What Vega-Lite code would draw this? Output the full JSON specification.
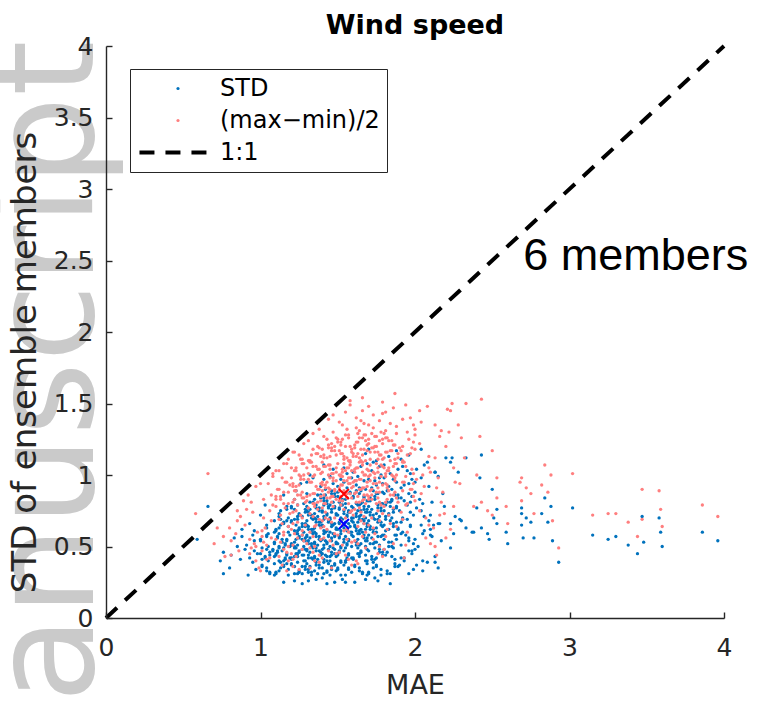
{
"$schema":"https://vega.github.io/schema/vega-lite/v6.json",
"width":618,"height":572,
"autosize":{"type":"none"},
"padding":{"left":106,"top":46,"right":41,"bottom":84},
"background":"white",
"config":{
 "view":{"stroke":null},
 "axis":{"grid":false,"domainColor":"#262626","domainWidth":1.4,"tickColor":"#262626","tickWidth":1.4,"tickSize":-6,"labelFont":"DejaVu Sans","labelFontSize":25,"labelColor":"#262626","labelFlush":false,"labelOverlap":false,"titleFont":"DejaVu Sans","titleFontSize":27,"titleFontWeight":"normal","titleColor":"#262626","zindex":1}
},
"datasets":{
"std":[
{"x":1.15,"y":0.25},{"x":1.22,"y":0.26},{"x":1.27,"y":0.24},{"x":1.31,"y":0.26},{"x":1.36,"y":0.27},{"x":1.43,"y":0.24},{"x":1.48,"y":0.25},{"x":1.40,"y":0.28},{"x":1.55,"y":0.25},{"x":1.53,"y":0.27},{"x":1.68,"y":0.27},{"x":1.61,"y":0.25},{"x":1.76,"y":0.26},{"x":1.74,"y":0.28},{"x":1.84,"y":0.24},
{"x":0.80,"y":0.35},{"x":0.95,"y":0.39},{"x":0.92,"y":0.30},{"x":0.97,"y":0.34},{"x":1.01,"y":0.37},{"x":1.06,"y":0.31},{"x":1.04,"y":0.35},{"x":1.09,"y":0.38},{"x":1.10,"y":0.32},{"x":1.15,"y":0.36},{"x":1.13,"y":0.39},{"x":1.18,"y":0.30},{"x":1.12,"y":0.33},{"x":1.27,"y":0.36},{"x":1.24,"y":0.31},{"x":1.29,"y":0.34},{"x":1.20,"y":0.37},{"x":1.25,"y":0.33},{"x":1.22,"y":0.36},{"x":1.37,"y":0.31},{"x":1.31,"y":0.34},{"x":1.36,"y":0.37},{"x":1.33,"y":0.32},{"x":1.38,"y":0.35},{"x":1.30,"y":0.38},{"x":1.45,"y":0.30},{"x":1.43,"y":0.33},{"x":1.48,"y":0.37},{"x":1.41,"y":0.31},{"x":1.46,"y":0.34},{"x":1.44,"y":0.38},{"x":1.59,"y":0.32},{"x":1.50,"y":0.35},{"x":1.55,"y":0.39},{"x":1.52,"y":0.30},{"x":1.57,"y":0.34},{"x":1.61,"y":0.37},{"x":1.66,"y":0.31},{"x":1.64,"y":0.35},{"x":1.69,"y":0.38},{"x":1.70,"y":0.32},{"x":1.75,"y":0.36},{"x":1.73,"y":0.39},{"x":1.78,"y":0.30},{"x":1.82,"y":0.33},{"x":1.87,"y":0.36},{"x":1.84,"y":0.31},{"x":1.99,"y":0.34},{"x":1.90,"y":0.37},{"x":2.05,"y":0.33},
{"x":0.76,"y":0.46},{"x":0.87,"y":0.41},{"x":0.81,"y":0.44},{"x":0.96,"y":0.47},{"x":0.93,"y":0.42},{"x":0.98,"y":0.45},{"x":0.90,"y":0.48},{"x":1.05,"y":0.40},{"x":1.03,"y":0.43},{"x":1.08,"y":0.47},{"x":1.01,"y":0.41},{"x":1.06,"y":0.44},{"x":1.04,"y":0.48},{"x":1.19,"y":0.42},{"x":1.10,"y":0.45},{"x":1.15,"y":0.49},{"x":1.12,"y":0.40},{"x":1.17,"y":0.44},{"x":1.11,"y":0.47},{"x":1.16,"y":0.41},{"x":1.24,"y":0.45},{"x":1.29,"y":0.48},{"x":1.20,"y":0.42},{"x":1.25,"y":0.46},{"x":1.23,"y":0.49},{"x":1.28,"y":0.40},{"x":1.22,"y":0.43},{"x":1.27,"y":0.44},{"x":1.34,"y":0.41},{"x":1.39,"y":0.44},{"x":1.30,"y":0.47},{"x":1.35,"y":0.43},{"x":1.32,"y":0.46},{"x":1.37,"y":0.41},{"x":1.31,"y":0.44},{"x":1.36,"y":0.47},{"x":1.33,"y":0.42},{"x":1.48,"y":0.45},{"x":1.40,"y":0.48},{"x":1.45,"y":0.40},{"x":1.43,"y":0.43},{"x":1.47,"y":0.49},{"x":1.41,"y":0.41},{"x":1.46,"y":0.44},{"x":1.44,"y":0.48},{"x":1.59,"y":0.42},{"x":1.50,"y":0.45},{"x":1.55,"y":0.49},{"x":1.52,"y":0.40},{"x":1.57,"y":0.44},{"x":1.51,"y":0.47},{"x":1.56,"y":0.41},{"x":1.64,"y":0.45},{"x":1.69,"y":0.48},{"x":1.60,"y":0.42},{"x":1.65,"y":0.46},{"x":1.63,"y":0.49},{"x":1.68,"y":0.40},{"x":1.72,"y":0.43},{"x":1.77,"y":0.46},{"x":1.74,"y":0.41},{"x":1.79,"y":0.44},{"x":1.70,"y":0.47},{"x":1.85,"y":0.43},{"x":1.82,"y":0.46},{"x":1.87,"y":0.41},{"x":1.81,"y":0.44},{"x":1.96,"y":0.47},{"x":1.93,"y":0.42},{"x":1.98,"y":0.45},{"x":2.00,"y":0.48},{"x":2.05,"y":0.40},{"x":2.13,"y":0.43},
{"x":0.88,"y":0.57},{"x":0.91,"y":0.51},{"x":0.96,"y":0.54},{"x":1.04,"y":0.58},{"x":1.09,"y":0.52},{"x":1.00,"y":0.55},{"x":1.05,"y":0.59},{"x":1.12,"y":0.50},{"x":1.17,"y":0.54},{"x":1.11,"y":0.57},{"x":1.16,"y":0.51},{"x":1.14,"y":0.55},{"x":1.19,"y":0.58},{"x":1.20,"y":0.52},{"x":1.25,"y":0.56},{"x":1.23,"y":0.59},{"x":1.28,"y":0.50},{"x":1.22,"y":0.53},{"x":1.27,"y":0.55},{"x":1.24,"y":0.51},{"x":1.29,"y":0.54},{"x":1.30,"y":0.57},{"x":1.35,"y":0.53},{"x":1.32,"y":0.56},{"x":1.37,"y":0.51},{"x":1.31,"y":0.54},{"x":1.36,"y":0.57},{"x":1.33,"y":0.52},{"x":1.38,"y":0.55},{"x":1.34,"y":0.59},{"x":1.45,"y":0.50},{"x":1.43,"y":0.53},{"x":1.48,"y":0.57},{"x":1.41,"y":0.51},{"x":1.46,"y":0.54},{"x":1.44,"y":0.58},{"x":1.49,"y":0.52},{"x":1.40,"y":0.55},{"x":1.47,"y":0.59},{"x":1.52,"y":0.50},{"x":1.57,"y":0.54},{"x":1.51,"y":0.57},{"x":1.56,"y":0.51},{"x":1.54,"y":0.55},{"x":1.59,"y":0.58},{"x":1.50,"y":0.52},{"x":1.55,"y":0.57},{"x":1.63,"y":0.59},{"x":1.68,"y":0.50},{"x":1.62,"y":0.53},{"x":1.67,"y":0.56},{"x":1.64,"y":0.51},{"x":1.69,"y":0.54},{"x":1.60,"y":0.57},{"x":1.75,"y":0.53},{"x":1.72,"y":0.56},{"x":1.77,"y":0.51},{"x":1.79,"y":0.58},{"x":1.76,"y":0.57},{"x":1.73,"y":0.52},{"x":1.88,"y":0.55},{"x":1.80,"y":0.58},{"x":1.85,"y":0.50},{"x":1.83,"y":0.53},{"x":1.87,"y":0.58},{"x":1.91,"y":0.51},{"x":1.96,"y":0.54},{"x":1.94,"y":0.58},{"x":1.99,"y":0.52},{"x":2.00,"y":0.55},{"x":2.05,"y":0.59},{"x":2.02,"y":0.50},{"x":2.17,"y":0.54},{"x":2.11,"y":0.57},
{"x":0.96,"y":0.61},{"x":1.04,"y":0.65},{"x":1.09,"y":0.68},{"x":1.10,"y":0.62},{"x":1.15,"y":0.66},{"x":1.13,"y":0.69},{"x":1.18,"y":0.60},{"x":1.12,"y":0.63},{"x":1.27,"y":0.66},{"x":1.24,"y":0.61},{"x":1.29,"y":0.64},{"x":1.20,"y":0.67},{"x":1.25,"y":0.63},{"x":1.22,"y":0.69},{"x":1.28,"y":0.60},{"x":1.31,"y":0.64},{"x":1.36,"y":0.67},{"x":1.33,"y":0.62},{"x":1.38,"y":0.65},{"x":1.30,"y":0.68},{"x":1.35,"y":0.60},{"x":1.34,"y":0.69},{"x":1.39,"y":0.67},{"x":1.41,"y":0.61},{"x":1.46,"y":0.64},{"x":1.44,"y":0.68},{"x":1.49,"y":0.62},{"x":1.40,"y":0.65},{"x":1.45,"y":0.69},{"x":1.42,"y":0.60},{"x":1.48,"y":0.66},{"x":1.51,"y":0.67},{"x":1.56,"y":0.61},{"x":1.54,"y":0.65},{"x":1.59,"y":0.68},{"x":1.50,"y":0.62},{"x":1.57,"y":0.66},{"x":1.53,"y":0.69},{"x":1.58,"y":0.60},{"x":1.62,"y":0.63},{"x":1.67,"y":0.66},{"x":1.64,"y":0.61},{"x":1.69,"y":0.64},{"x":1.60,"y":0.67},{"x":1.66,"y":0.69},{"x":1.61,"y":0.65},{"x":1.68,"y":0.62},{"x":1.71,"y":0.64},{"x":1.76,"y":0.67},{"x":1.73,"y":0.62},{"x":1.78,"y":0.65},{"x":1.70,"y":0.68},{"x":1.75,"y":0.60},{"x":1.74,"y":0.69},{"x":1.88,"y":0.67},{"x":1.81,"y":0.61},{"x":1.86,"y":0.64},{"x":1.84,"y":0.68},{"x":1.89,"y":0.62},{"x":1.80,"y":0.65},{"x":1.95,"y":0.69},{"x":1.92,"y":0.60},{"x":1.97,"y":0.64},{"x":1.91,"y":0.67},{"x":2.06,"y":0.61},{"x":2.04,"y":0.65},{"x":2.09,"y":0.68},{"x":2.10,"y":0.62},{"x":2.15,"y":0.66},
{"x":1.03,"y":0.79},{"x":1.18,"y":0.70},{"x":1.12,"y":0.73},{"x":1.17,"y":0.76},{"x":1.24,"y":0.71},{"x":1.29,"y":0.74},{"x":1.20,"y":0.77},{"x":1.25,"y":0.73},{"x":1.22,"y":0.76},{"x":1.37,"y":0.71},{"x":1.31,"y":0.74},{"x":1.36,"y":0.77},{"x":1.33,"y":0.72},{"x":1.38,"y":0.75},{"x":1.30,"y":0.78},{"x":1.35,"y":0.70},{"x":1.43,"y":0.73},{"x":1.48,"y":0.77},{"x":1.41,"y":0.71},{"x":1.46,"y":0.74},{"x":1.44,"y":0.78},{"x":1.49,"y":0.72},{"x":1.40,"y":0.75},{"x":1.45,"y":0.79},{"x":1.52,"y":0.70},{"x":1.57,"y":0.74},{"x":1.51,"y":0.77},{"x":1.56,"y":0.71},{"x":1.54,"y":0.75},{"x":1.59,"y":0.78},{"x":1.50,"y":0.72},{"x":1.53,"y":0.79},{"x":1.63,"y":0.79},{"x":1.68,"y":0.70},{"x":1.62,"y":0.73},{"x":1.67,"y":0.76},{"x":1.64,"y":0.71},{"x":1.69,"y":0.74},{"x":1.60,"y":0.77},{"x":1.65,"y":0.75},{"x":1.72,"y":0.76},{"x":1.77,"y":0.71},{"x":1.71,"y":0.74},{"x":1.76,"y":0.77},{"x":1.73,"y":0.72},{"x":1.78,"y":0.75},{"x":1.70,"y":0.78},{"x":1.85,"y":0.70},{"x":1.83,"y":0.73},{"x":1.88,"y":0.77},{"x":1.81,"y":0.71},{"x":1.86,"y":0.74},{"x":1.84,"y":0.78},{"x":1.99,"y":0.72},{"x":1.90,"y":0.75},{"x":1.95,"y":0.79},{"x":1.92,"y":0.70},{"x":1.97,"y":0.74},{"x":2.01,"y":0.77},{"x":2.06,"y":0.71},{"x":2.04,"y":0.75},{"x":2.19,"y":0.78},{"x":2.10,"y":0.72},
{"x":1.15,"y":0.86},{"x":1.23,"y":0.89},{"x":1.28,"y":0.80},{"x":1.22,"y":0.83},{"x":1.37,"y":0.86},{"x":1.34,"y":0.81},{"x":1.39,"y":0.84},{"x":1.30,"y":0.87},{"x":1.35,"y":0.83},{"x":1.42,"y":0.86},{"x":1.47,"y":0.81},{"x":1.41,"y":0.84},{"x":1.46,"y":0.87},{"x":1.43,"y":0.82},{"x":1.48,"y":0.85},{"x":1.50,"y":0.88},{"x":1.55,"y":0.80},{"x":1.53,"y":0.83},{"x":1.58,"y":0.87},{"x":1.51,"y":0.81},{"x":1.56,"y":0.84},{"x":1.54,"y":0.88},{"x":1.69,"y":0.82},{"x":1.60,"y":0.85},{"x":1.65,"y":0.89},{"x":1.62,"y":0.80},{"x":1.67,"y":0.84},{"x":1.61,"y":0.87},{"x":1.66,"y":0.81},{"x":1.74,"y":0.85},{"x":1.79,"y":0.88},{"x":1.70,"y":0.82},{"x":1.76,"y":0.87},{"x":1.73,"y":0.89},{"x":1.78,"y":0.80},{"x":1.71,"y":0.84},{"x":1.87,"y":0.86},{"x":1.84,"y":0.81},{"x":1.89,"y":0.84},{"x":1.80,"y":0.87},{"x":1.85,"y":0.83},{"x":1.82,"y":0.89},{"x":1.97,"y":0.81},{"x":1.91,"y":0.84},{"x":1.96,"y":0.87},{"x":1.93,"y":0.82},{"x":1.98,"y":0.85},{"x":2.00,"y":0.88},{"x":2.05,"y":0.80},{"x":2.03,"y":0.83},{"x":2.18,"y":0.87},{"x":2.11,"y":0.81},
{"x":1.26,"y":0.94},{"x":1.34,"y":0.98},{"x":1.39,"y":0.92},{"x":1.30,"y":0.95},{"x":1.45,"y":0.99},{"x":1.42,"y":0.90},{"x":1.47,"y":0.94},{"x":1.41,"y":0.97},{"x":1.56,"y":0.91},{"x":1.54,"y":0.95},{"x":1.59,"y":0.98},{"x":1.50,"y":0.92},{"x":1.52,"y":0.97},{"x":1.63,"y":0.99},{"x":1.68,"y":0.90},{"x":1.62,"y":0.93},{"x":1.67,"y":0.96},{"x":1.64,"y":0.91},{"x":1.79,"y":0.94},{"x":1.70,"y":0.97},{"x":1.75,"y":0.93},{"x":1.72,"y":0.91},{"x":1.77,"y":0.98},{"x":1.74,"y":0.96},{"x":1.86,"y":0.97},{"x":1.83,"y":0.92},{"x":1.88,"y":0.95},{"x":1.80,"y":0.98},{"x":1.85,"y":0.90},{"x":1.93,"y":0.93},{"x":1.98,"y":0.97},{"x":1.91,"y":0.91},{"x":1.96,"y":0.94},{"x":2.04,"y":0.98},{"x":2.09,"y":0.92},{"x":2.00,"y":0.95},{"x":2.15,"y":0.99},
{"x":1.32,"y":1.00},{"x":1.47,"y":1.04},{"x":1.41,"y":1.07},{"x":1.56,"y":1.01},{"x":1.54,"y":1.05},{"x":1.69,"y":1.08},{"x":1.60,"y":1.02},{"x":1.65,"y":1.06},{"x":1.73,"y":1.09},{"x":1.78,"y":1.00},{"x":1.72,"y":1.03},{"x":1.77,"y":1.06},{"x":1.84,"y":1.01},{"x":1.89,"y":1.04},{"x":1.80,"y":1.07},{"x":1.95,"y":1.03},{"x":1.92,"y":1.06},{"x":1.97,"y":1.01},{"x":2.01,"y":1.04},{"x":2.06,"y":1.07},{"x":2.13,"y":1.02},
{"x":1.68,"y":1.15},{"x":1.70,"y":1.18},{"x":1.75,"y":1.10},{"x":1.83,"y":1.13},{"x":1.88,"y":1.17},{"x":1.91,"y":1.11},{"x":1.96,"y":1.14},{"x":2.04,"y":1.18},
{"x":0.76,"y":0.31},{"x":0.74,"y":0.40},{"x":0.83,"y":0.56},{"x":0.88,"y":0.62},{"x":0.93,"y":0.66},{"x":0.66,"y":0.78},{"x":0.59,"y":0.55},{"x":0.85,"y":0.50},{"x":0.95,"y":0.58},{"x":1.00,"y":0.72},
{"x":2.43,"y":1.14},{"x":2.33,"y":1.12},{"x":2.42,"y":0.98},{"x":2.50,"y":0.90},{"x":2.51,"y":0.70},{"x":2.53,"y":0.76},{"x":2.53,"y":0.66},{"x":2.43,"y":0.63},{"x":2.38,"y":0.60},{"x":2.47,"y":0.59},{"x":2.48,"y":0.55},{"x":2.40,"y":0.77},{"x":2.59,"y":0.60},{"x":2.60,"y":0.52},{"x":2.69,"y":0.77},{"x":2.69,"y":0.73},{"x":2.69,"y":0.65},{"x":2.70,"y":0.56},{"x":2.72,"y":0.70},{"x":2.75,"y":0.67},{"x":2.77,"y":0.56},{"x":2.82,"y":0.73},{"x":2.84,"y":0.84},{"x":2.88,"y":0.78},{"x":2.86,"y":0.67},{"x":2.89,"y":0.54},{"x":2.93,"y":0.39},{"x":3.02,"y":0.77},{"x":3.15,"y":0.58},{"x":3.25,"y":0.55},{"x":3.30,"y":0.57},{"x":3.38,"y":0.51},{"x":3.44,"y":0.45},{"x":3.47,"y":0.71},{"x":3.48,"y":0.53},{"x":3.58,"y":0.70},{"x":3.59,"y":0.60},{"x":3.60,"y":0.50},{"x":3.86,"y":0.60},{"x":3.96,"y":0.54},{"x":2.23,"y":0.49},{"x":2.20,"y":1.12},{"x":2.24,"y":1.12},{"x":2.23,"y":1.09},{"x":2.28,"y":1.02},{"x":2.26,"y":0.71},{"x":2.29,"y":0.69},{"x":2.25,"y":0.59},{"x":2.23,"y":0.66},{"x":2.30,"y":0.68},{"x":2.33,"y":0.63},{"x":2.37,"y":0.60},{"x":2.13,"y":0.39},{"x":2.08,"y":0.39},{"x":2.15,"y":0.35},{"x":2.01,"y":0.37},{"x":1.96,"y":0.31},{"x":2.16,"y":0.66},{"x":2.12,"y":0.65},{"x":2.10,"y":0.58},{"x":2.08,"y":1.09},{"x":2.13,"y":1.02},
{"x":1.06,"y":0.32},{"x":1.01,"y":0.36},{"x":1.09,"y":0.30},{"x":1.04,"y":0.33},{"x":1.15,"y":0.37},{"x":1.10,"y":0.31},{"x":1.18,"y":0.34},{"x":1.13,"y":0.35},{"x":1.17,"y":0.38},{"x":1.22,"y":0.31},{"x":1.29,"y":0.36},{"x":1.24,"y":0.39},{"x":1.25,"y":0.32},{"x":1.20,"y":0.38},{"x":1.27,"y":0.31},{"x":1.32,"y":0.36},{"x":1.36,"y":0.39},{"x":1.31,"y":0.32},{"x":1.38,"y":0.37},{"x":1.33,"y":0.30},{"x":1.35,"y":0.33},{"x":1.40,"y":0.35},{"x":1.48,"y":0.38},{"x":1.43,"y":0.32},{"x":1.46,"y":0.36},{"x":1.41,"y":0.39},{"x":1.49,"y":0.33},{"x":1.54,"y":0.37},{"x":1.55,"y":0.30},{"x":1.50,"y":0.34},{"x":1.57,"y":0.35},{"x":1.52,"y":0.39},{"x":1.66,"y":0.32},{"x":1.61,"y":0.36},{"x":1.69,"y":0.30},{"x":1.64,"y":0.33},{"x":1.75,"y":0.37},{"x":1.70,"y":0.31},{"x":1.78,"y":0.34},{"x":1.73,"y":0.35},{"x":1.87,"y":0.38},{"x":1.82,"y":0.31},{"x":1.89,"y":0.36},
{"x":1.00,"y":0.45},{"x":1.08,"y":0.48},{"x":1.03,"y":0.42},{"x":1.06,"y":0.46},{"x":1.01,"y":0.49},{"x":1.09,"y":0.43},{"x":1.14,"y":0.47},{"x":1.15,"y":0.40},{"x":1.10,"y":0.44},{"x":1.17,"y":0.45},{"x":1.12,"y":0.49},{"x":1.16,"y":0.42},{"x":1.11,"y":0.46},{"x":1.29,"y":0.40},{"x":1.24,"y":0.43},{"x":1.25,"y":0.47},{"x":1.20,"y":0.41},{"x":1.28,"y":0.44},{"x":1.23,"y":0.45},{"x":1.27,"y":0.48},{"x":1.22,"y":0.49},{"x":1.39,"y":0.46},{"x":1.34,"y":0.49},{"x":1.35,"y":0.42},{"x":1.30,"y":0.48},{"x":1.36,"y":0.49},{"x":1.31,"y":0.42},{"x":1.38,"y":0.47},{"x":1.43,"y":0.40},{"x":1.45,"y":0.43},{"x":1.40,"y":0.45},{"x":1.48,"y":0.48},{"x":1.42,"y":0.44},{"x":1.46,"y":0.46},{"x":1.41,"y":0.49},{"x":1.49,"y":0.43},{"x":1.54,"y":0.47},{"x":1.55,"y":0.40},{"x":1.50,"y":0.44},{"x":1.57,"y":0.45},{"x":1.52,"y":0.49},{"x":1.56,"y":0.42},{"x":1.51,"y":0.46},{"x":1.69,"y":0.40},{"x":1.64,"y":0.43},{"x":1.65,"y":0.47},{"x":1.60,"y":0.41},{"x":1.68,"y":0.44},{"x":1.63,"y":0.45},{"x":1.77,"y":0.48},{"x":1.72,"y":0.41},{"x":1.79,"y":0.46},{"x":1.74,"y":0.49},{"x":1.75,"y":0.42},{"x":1.80,"y":0.48},{"x":1.86,"y":0.49},{"x":1.91,"y":0.42},{"x":1.98,"y":0.47},{"x":1.93,"y":0.40},
{"x":1.09,"y":0.53},{"x":1.04,"y":0.57},{"x":1.05,"y":0.50},{"x":1.00,"y":0.54},{"x":1.17,"y":0.55},{"x":1.12,"y":0.59},{"x":1.16,"y":0.52},{"x":1.11,"y":0.56},{"x":1.19,"y":0.50},{"x":1.14,"y":0.53},{"x":1.25,"y":0.57},{"x":1.20,"y":0.51},{"x":1.28,"y":0.54},{"x":1.23,"y":0.55},{"x":1.27,"y":0.58},{"x":1.22,"y":0.50},{"x":1.29,"y":0.56},{"x":1.24,"y":0.59},{"x":1.35,"y":0.52},{"x":1.30,"y":0.58},{"x":1.36,"y":0.59},{"x":1.31,"y":0.52},{"x":1.38,"y":0.57},{"x":1.33,"y":0.50},{"x":1.39,"y":0.54},{"x":1.48,"y":0.58},{"x":1.43,"y":0.52},{"x":1.46,"y":0.56},{"x":1.41,"y":0.59},{"x":1.49,"y":0.53},{"x":1.44,"y":0.57},{"x":1.42,"y":0.54},{"x":1.57,"y":0.55},{"x":1.52,"y":0.59},{"x":1.56,"y":0.52},{"x":1.51,"y":0.56},{"x":1.59,"y":0.50},{"x":1.54,"y":0.53},{"x":1.68,"y":0.54},{"x":1.63,"y":0.55},{"x":1.67,"y":0.58},{"x":1.62,"y":0.51},{"x":1.69,"y":0.56},{"x":1.64,"y":0.59},{"x":1.65,"y":0.52},{"x":1.70,"y":0.58},{"x":1.74,"y":0.53},{"x":1.71,"y":0.52},{"x":1.78,"y":0.57},{"x":1.83,"y":0.50},{"x":1.85,"y":0.53},{"x":1.80,"y":0.55},{"x":1.88,"y":0.58},{"x":1.96,"y":0.56},{"x":1.91,"y":0.59},
{"x":1.09,"y":0.60},{"x":1.04,"y":0.63},{"x":1.15,"y":0.67},{"x":1.10,"y":0.61},{"x":1.18,"y":0.64},{"x":1.13,"y":0.65},{"x":1.17,"y":0.68},{"x":1.22,"y":0.61},{"x":1.29,"y":0.66},{"x":1.24,"y":0.69},{"x":1.25,"y":0.62},{"x":1.20,"y":0.68},{"x":1.27,"y":0.64},{"x":1.23,"y":0.65},{"x":1.36,"y":0.69},{"x":1.31,"y":0.62},{"x":1.38,"y":0.67},{"x":1.33,"y":0.60},{"x":1.35,"y":0.63},{"x":1.30,"y":0.65},{"x":1.39,"y":0.64},{"x":1.34,"y":0.62},{"x":1.46,"y":0.66},{"x":1.41,"y":0.69},{"x":1.49,"y":0.63},{"x":1.44,"y":0.67},{"x":1.45,"y":0.60},{"x":1.40,"y":0.64},{"x":1.47,"y":0.65},{"x":1.43,"y":0.61},{"x":1.56,"y":0.62},{"x":1.51,"y":0.66},{"x":1.59,"y":0.60},{"x":1.54,"y":0.63},{"x":1.55,"y":0.67},{"x":1.52,"y":0.61},{"x":1.58,"y":0.64},{"x":1.53,"y":0.65},{"x":1.67,"y":0.68},{"x":1.62,"y":0.61},{"x":1.69,"y":0.66},{"x":1.64,"y":0.69},{"x":1.65,"y":0.62},{"x":1.61,"y":0.64},{"x":1.66,"y":0.60},{"x":1.63,"y":0.67},{"x":1.76,"y":0.69},{"x":1.71,"y":0.62},{"x":1.78,"y":0.67},{"x":1.73,"y":0.60},{"x":1.75,"y":0.63},{"x":1.70,"y":0.65},{"x":1.79,"y":0.64},{"x":1.83,"y":0.62},{"x":1.86,"y":0.66},{"x":1.81,"y":0.69},{"x":1.89,"y":0.63},{"x":1.97,"y":0.65},{"x":1.92,"y":0.69},
{"x":1.13,"y":0.75},{"x":1.17,"y":0.78},{"x":1.12,"y":0.71},{"x":1.29,"y":0.76},{"x":1.24,"y":0.79},{"x":1.25,"y":0.72},{"x":1.20,"y":0.78},{"x":1.27,"y":0.71},{"x":1.32,"y":0.76},{"x":1.36,"y":0.79},{"x":1.31,"y":0.72},{"x":1.38,"y":0.77},{"x":1.33,"y":0.70},{"x":1.35,"y":0.73},{"x":1.30,"y":0.75},{"x":1.48,"y":0.78},{"x":1.43,"y":0.72},{"x":1.46,"y":0.76},{"x":1.41,"y":0.79},{"x":1.49,"y":0.73},{"x":1.44,"y":0.77},{"x":1.45,"y":0.70},{"x":1.40,"y":0.74},{"x":1.57,"y":0.75},{"x":1.52,"y":0.79},{"x":1.56,"y":0.72},{"x":1.51,"y":0.76},{"x":1.59,"y":0.70},{"x":1.54,"y":0.73},{"x":1.55,"y":0.77},{"x":1.58,"y":0.74},{"x":1.68,"y":0.74},{"x":1.63,"y":0.75},{"x":1.67,"y":0.78},{"x":1.62,"y":0.71},{"x":1.69,"y":0.76},{"x":1.64,"y":0.79},{"x":1.65,"y":0.72},{"x":1.60,"y":0.70},{"x":1.76,"y":0.79},{"x":1.71,"y":0.72},{"x":1.78,"y":0.77},{"x":1.73,"y":0.70},{"x":1.75,"y":0.73},{"x":1.80,"y":0.75},{"x":1.88,"y":0.78},{"x":1.83,"y":0.72},{"x":1.86,"y":0.76},{"x":1.81,"y":0.79},
{"x":1.32,"y":0.81},{"x":1.39,"y":0.86},{"x":1.46,"y":0.89},{"x":1.41,"y":0.82},{"x":1.48,"y":0.87},{"x":1.43,"y":0.80},{"x":1.55,"y":0.83},{"x":1.50,"y":0.85},{"x":1.58,"y":0.88},{"x":1.53,"y":0.82},{"x":1.51,"y":0.89},{"x":1.64,"y":0.87},{"x":1.65,"y":0.80},{"x":1.60,"y":0.84},{"x":1.67,"y":0.85},{"x":1.62,"y":0.89},{"x":1.79,"y":0.80},{"x":1.74,"y":0.83},{"x":1.75,"y":0.87},{"x":1.71,"y":0.82},{"x":1.82,"y":0.81},{"x":1.89,"y":0.86},{"x":1.85,"y":0.82}
],
"mm":[
{"x":0.99,"y":0.35},{"x":1.00,"y":0.33},{"x":1.14,"y":0.37},{"x":1.17,"y":0.33},{"x":1.21,"y":0.36},{"x":1.25,"y":0.34},{"x":1.38,"y":0.39},{"x":1.32,"y":0.35},{"x":1.46,"y":0.35},{"x":1.59,"y":0.37},{"x":1.63,"y":0.38},
{"x":0.77,"y":0.43},{"x":0.86,"y":0.47},{"x":0.81,"y":0.44},{"x":0.94,"y":0.49},{"x":0.97,"y":0.40},{"x":0.93,"y":0.45},{"x":1.06,"y":0.42},{"x":1.01,"y":0.47},{"x":1.04,"y":0.41},{"x":1.17,"y":0.46},{"x":1.12,"y":0.43},{"x":1.15,"y":0.48},{"x":1.18,"y":0.40},{"x":1.20,"y":0.45},{"x":1.23,"y":0.43},{"x":1.27,"y":0.48},{"x":1.21,"y":0.41},{"x":1.34,"y":0.46},{"x":1.38,"y":0.44},{"x":1.32,"y":0.49},{"x":1.35,"y":0.40},{"x":1.49,"y":0.45},{"x":1.40,"y":0.42},{"x":1.44,"y":0.47},{"x":1.57,"y":0.41},{"x":1.51,"y":0.46},{"x":1.55,"y":0.44},{"x":1.68,"y":0.49},{"x":1.62,"y":0.40},{"x":1.76,"y":0.45},{"x":1.79,"y":0.43},{"x":1.80,"y":0.48},{"x":1.93,"y":0.42},
{"x":0.76,"y":0.57},{"x":0.81,"y":0.54},{"x":0.84,"y":0.59},{"x":0.97,"y":0.50},{"x":0.93,"y":0.55},{"x":0.96,"y":0.52},{"x":1.01,"y":0.57},{"x":1.04,"y":0.51},{"x":1.07,"y":0.56},{"x":1.02,"y":0.53},{"x":1.15,"y":0.58},{"x":1.18,"y":0.50},{"x":1.10,"y":0.55},{"x":1.13,"y":0.53},{"x":1.27,"y":0.58},{"x":1.21,"y":0.51},{"x":1.24,"y":0.56},{"x":1.28,"y":0.54},{"x":1.22,"y":0.59},{"x":1.35,"y":0.50},{"x":1.39,"y":0.55},{"x":1.30,"y":0.52},{"x":1.34,"y":0.57},{"x":1.47,"y":0.51},{"x":1.41,"y":0.56},{"x":1.45,"y":0.54},{"x":1.48,"y":0.59},{"x":1.53,"y":0.51},{"x":1.56,"y":0.55},{"x":1.59,"y":0.53},{"x":1.50,"y":0.58},{"x":1.63,"y":0.52},{"x":1.66,"y":0.57},{"x":1.61,"y":0.54},{"x":1.74,"y":0.59},{"x":1.77,"y":0.50},{"x":1.73,"y":0.55},{"x":1.86,"y":0.52},{"x":1.81,"y":0.57},{"x":1.94,"y":0.51},{"x":2.07,"y":0.56},
{"x":0.72,"y":0.63},{"x":0.85,"y":0.68},{"x":0.98,"y":0.60},{"x":0.90,"y":0.65},{"x":1.03,"y":0.63},{"x":1.07,"y":0.68},{"x":1.01,"y":0.61},{"x":1.14,"y":0.66},{"x":1.18,"y":0.64},{"x":1.12,"y":0.69},{"x":1.15,"y":0.60},{"x":1.29,"y":0.65},{"x":1.20,"y":0.62},{"x":1.24,"y":0.67},{"x":1.27,"y":0.61},{"x":1.21,"y":0.66},{"x":1.35,"y":0.64},{"x":1.38,"y":0.69},{"x":1.32,"y":0.60},{"x":1.36,"y":0.65},{"x":1.39,"y":0.63},{"x":1.40,"y":0.68},{"x":1.43,"y":0.62},{"x":1.46,"y":0.67},{"x":1.41,"y":0.64},{"x":1.44,"y":0.69},{"x":1.57,"y":0.60},{"x":1.53,"y":0.65},{"x":1.56,"y":0.62},{"x":1.52,"y":0.68},{"x":1.54,"y":0.61},{"x":1.67,"y":0.66},{"x":1.63,"y":0.64},{"x":1.65,"y":0.68},{"x":1.68,"y":0.60},{"x":1.70,"y":0.65},{"x":1.73,"y":0.63},{"x":1.77,"y":0.68},{"x":1.82,"y":0.62},{"x":1.84,"y":0.66},{"x":1.88,"y":0.64},{"x":1.92,"y":0.69},{"x":1.95,"y":0.60},{"x":2.09,"y":0.65},{"x":2.12,"y":0.63},
{"x":0.58,"y":0.73},{"x":0.87,"y":0.71},{"x":0.91,"y":0.76},{"x":0.95,"y":0.74},{"x":1.08,"y":0.79},{"x":1.02,"y":0.70},{"x":1.06,"y":0.75},{"x":1.19,"y":0.73},{"x":1.10,"y":0.78},{"x":1.13,"y":0.72},{"x":1.16,"y":0.77},{"x":1.21,"y":0.74},{"x":1.24,"y":0.79},{"x":1.27,"y":0.70},{"x":1.23,"y":0.75},{"x":1.26,"y":0.72},{"x":1.31,"y":0.77},{"x":1.34,"y":0.71},{"x":1.37,"y":0.76},{"x":1.32,"y":0.73},{"x":1.35,"y":0.78},{"x":1.48,"y":0.70},{"x":1.40,"y":0.77},{"x":1.42,"y":0.74},{"x":1.47,"y":0.78},{"x":1.42,"y":0.70},{"x":1.54,"y":0.76},{"x":1.58,"y":0.74},{"x":1.52,"y":0.79},{"x":1.55,"y":0.70},{"x":1.59,"y":0.75},{"x":1.60,"y":0.72},{"x":1.64,"y":0.77},{"x":1.67,"y":0.71},{"x":1.61,"y":0.76},{"x":1.65,"y":0.74},{"x":1.78,"y":0.79},{"x":1.72,"y":0.70},{"x":1.76,"y":0.75},{"x":1.79,"y":0.73},{"x":1.80,"y":0.78},{"x":1.83,"y":0.72},{"x":1.86,"y":0.77},{"x":1.91,"y":0.74},{"x":1.94,"y":0.79},{"x":2.07,"y":0.70},{"x":2.03,"y":0.75},{"x":2.16,"y":0.72},
{"x":0.89,"y":0.82},{"x":0.94,"y":0.81},{"x":1.07,"y":0.86},{"x":1.02,"y":0.83},{"x":1.15,"y":0.88},{"x":1.18,"y":0.80},{"x":1.10,"y":0.85},{"x":1.13,"y":0.83},{"x":1.27,"y":0.88},{"x":1.21,"y":0.81},{"x":1.24,"y":0.86},{"x":1.28,"y":0.84},{"x":1.22,"y":0.89},{"x":1.35,"y":0.80},{"x":1.39,"y":0.85},{"x":1.30,"y":0.82},{"x":1.34,"y":0.87},{"x":1.37,"y":0.81},{"x":1.41,"y":0.86},{"x":1.45,"y":0.84},{"x":1.48,"y":0.89},{"x":1.42,"y":0.80},{"x":1.46,"y":0.85},{"x":1.49,"y":0.83},{"x":1.51,"y":0.89},{"x":1.53,"y":0.82},{"x":1.56,"y":0.87},{"x":1.52,"y":0.85},{"x":1.54,"y":0.89},{"x":1.57,"y":0.80},{"x":1.63,"y":0.85},{"x":1.66,"y":0.82},{"x":1.62,"y":0.88},{"x":1.64,"y":0.81},{"x":1.67,"y":0.86},{"x":1.72,"y":0.83},{"x":1.75,"y":0.88},{"x":1.77,"y":0.81},{"x":1.70,"y":0.85},{"x":1.76,"y":0.84},{"x":1.87,"y":0.88},{"x":1.81,"y":0.81},{"x":1.84,"y":0.86},{"x":1.88,"y":0.84},{"x":1.92,"y":0.89},{"x":1.95,"y":0.80},{"x":1.99,"y":0.85},{"x":2.00,"y":0.82},{"x":2.04,"y":0.87},{"x":2.17,"y":0.81},
{"x":0.97,"y":0.92},{"x":1.05,"y":0.94},{"x":1.08,"y":0.99},{"x":1.12,"y":0.90},{"x":1.16,"y":0.95},{"x":1.19,"y":0.93},{"x":1.20,"y":0.98},{"x":1.23,"y":0.92},{"x":1.26,"y":0.97},{"x":1.21,"y":0.94},{"x":1.34,"y":0.99},{"x":1.37,"y":0.90},{"x":1.33,"y":0.95},{"x":1.36,"y":0.92},{"x":1.31,"y":0.97},{"x":1.44,"y":0.91},{"x":1.47,"y":0.96},{"x":1.42,"y":0.93},{"x":1.45,"y":0.98},{"x":1.48,"y":0.90},{"x":1.40,"y":0.95},{"x":1.53,"y":0.93},{"x":1.57,"y":0.98},{"x":1.51,"y":0.91},{"x":1.54,"y":0.96},{"x":1.58,"y":0.94},{"x":1.52,"y":0.99},{"x":1.65,"y":0.90},{"x":1.69,"y":0.95},{"x":1.60,"y":0.92},{"x":1.64,"y":0.97},{"x":1.67,"y":0.91},{"x":1.61,"y":0.96},{"x":1.75,"y":0.94},{"x":1.78,"y":0.99},{"x":1.72,"y":0.90},{"x":1.71,"y":0.96},{"x":1.79,"y":0.93},{"x":1.81,"y":0.99},{"x":1.82,"y":0.93},{"x":1.87,"y":0.96},{"x":1.81,"y":0.94},{"x":1.94,"y":0.99},{"x":1.97,"y":0.90},{"x":1.93,"y":0.95},{"x":2.06,"y":0.92},{"x":2.01,"y":0.97},{"x":2.14,"y":0.91},
{"x":1.08,"y":1.01},{"x":1.12,"y":1.03},{"x":1.15,"y":1.08},{"x":1.28,"y":1.00},{"x":1.20,"y":1.05},{"x":1.23,"y":1.03},{"x":1.27,"y":1.08},{"x":1.31,"y":1.01},{"x":1.34,"y":1.06},{"x":1.38,"y":1.04},{"x":1.32,"y":1.09},{"x":1.35,"y":1.00},{"x":1.49,"y":1.05},{"x":1.40,"y":1.02},{"x":1.44,"y":1.07},{"x":1.47,"y":1.01},{"x":1.41,"y":1.06},{"x":1.45,"y":1.04},{"x":1.58,"y":1.09},{"x":1.52,"y":1.00},{"x":1.56,"y":1.05},{"x":1.59,"y":1.03},{"x":1.50,"y":1.08},{"x":1.53,"y":1.02},{"x":1.66,"y":1.07},{"x":1.61,"y":1.04},{"x":1.64,"y":1.09},{"x":1.67,"y":1.00},{"x":1.63,"y":1.05},{"x":1.66,"y":1.02},{"x":1.71,"y":1.07},{"x":1.74,"y":1.01},{"x":1.76,"y":1.05},{"x":1.73,"y":1.02},{"x":1.75,"y":1.08},{"x":1.88,"y":1.00},{"x":1.80,"y":1.05},{"x":1.83,"y":1.03},{"x":1.87,"y":1.08},{"x":1.81,"y":1.01},{"x":1.94,"y":1.06},{"x":1.98,"y":1.04},{"x":1.92,"y":1.09},{"x":2.05,"y":1.00},{"x":2.09,"y":1.05},{"x":2.10,"y":1.02},
{"x":1.18,"y":1.11},{"x":1.27,"y":1.11},{"x":1.21,"y":1.16},{"x":1.25,"y":1.14},{"x":1.38,"y":1.19},{"x":1.32,"y":1.10},{"x":1.36,"y":1.15},{"x":1.39,"y":1.13},{"x":1.40,"y":1.18},{"x":1.43,"y":1.12},{"x":1.46,"y":1.17},{"x":1.41,"y":1.14},{"x":1.44,"y":1.19},{"x":1.57,"y":1.10},{"x":1.53,"y":1.15},{"x":1.56,"y":1.12},{"x":1.51,"y":1.17},{"x":1.54,"y":1.11},{"x":1.59,"y":1.18},{"x":1.62,"y":1.13},{"x":1.65,"y":1.18},{"x":1.68,"y":1.10},{"x":1.60,"y":1.15},{"x":1.66,"y":1.14},{"x":1.69,"y":1.17},{"x":1.71,"y":1.11},{"x":1.74,"y":1.16},{"x":1.78,"y":1.14},{"x":1.72,"y":1.19},{"x":1.76,"y":1.11},{"x":1.89,"y":1.15},{"x":1.80,"y":1.12},{"x":1.84,"y":1.17},{"x":1.87,"y":1.11},{"x":1.81,"y":1.16},{"x":1.95,"y":1.14},{"x":1.98,"y":1.19},{"x":1.92,"y":1.10},{"x":1.91,"y":1.17},{"x":2.09,"y":1.13},{"x":2.00,"y":1.18},{"x":2.13,"y":1.12},
{"x":1.28,"y":1.22},{"x":1.31,"y":1.24},{"x":1.34,"y":1.29},{"x":1.37,"y":1.20},{"x":1.43,"y":1.25},{"x":1.46,"y":1.22},{"x":1.41,"y":1.27},{"x":1.44,"y":1.21},{"x":1.57,"y":1.26},{"x":1.52,"y":1.23},{"x":1.55,"y":1.28},{"x":1.58,"y":1.20},{"x":1.50,"y":1.25},{"x":1.63,"y":1.23},{"x":1.67,"y":1.28},{"x":1.61,"y":1.21},{"x":1.64,"y":1.26},{"x":1.68,"y":1.24},{"x":1.72,"y":1.29},{"x":1.75,"y":1.20},{"x":1.79,"y":1.25},{"x":1.70,"y":1.22},{"x":1.74,"y":1.27},{"x":1.87,"y":1.21},{"x":1.81,"y":1.26},{"x":1.85,"y":1.24},{"x":1.88,"y":1.29},{"x":1.92,"y":1.20},{"x":1.96,"y":1.25},{"x":1.99,"y":1.23},{"x":2.00,"y":1.28},{"x":2.03,"y":1.22},{"x":2.16,"y":1.27},
{"x":1.38,"y":1.32},{"x":1.44,"y":1.39},{"x":1.47,"y":1.30},{"x":1.53,"y":1.35},{"x":1.56,"y":1.32},{"x":1.51,"y":1.37},{"x":1.64,"y":1.31},{"x":1.67,"y":1.36},{"x":1.62,"y":1.33},{"x":1.65,"y":1.38},{"x":1.78,"y":1.30},{"x":1.70,"y":1.35},{"x":1.73,"y":1.33},{"x":1.77,"y":1.38},{"x":1.81,"y":1.31},{"x":1.84,"y":1.36},{"x":1.88,"y":1.34},{"x":1.92,"y":1.39},{"x":1.95,"y":1.30},{"x":1.99,"y":1.35},{"x":2.00,"y":1.32},{"x":2.04,"y":1.37},{"x":2.17,"y":1.31},
{"x":1.47,"y":1.42},{"x":1.55,"y":1.44},{"x":1.58,"y":1.49},{"x":1.62,"y":1.40},{"x":1.66,"y":1.45},{"x":1.79,"y":1.43},{"x":1.70,"y":1.48},{"x":1.73,"y":1.42},{"x":1.86,"y":1.47},{"x":1.81,"y":1.44},{"x":1.94,"y":1.49},{"x":1.97,"y":1.40},{"x":2.03,"y":1.45},
{"x":1.58,"y":1.52},{"x":1.66,"y":1.54},{"x":1.87,"y":1.57},{"x":1.79,"y":1.51},
{"x":0.66,"y":1.01},{"x":0.70,"y":0.52},{"x":0.80,"y":0.63},{"x":0.85,"y":0.75},{"x":0.92,"y":0.86},{"x":1.00,"y":0.94},
{"x":2.43,"y":1.53},{"x":2.42,"y":1.27},{"x":2.50,"y":1.17},{"x":2.53,"y":0.98},{"x":2.40,"y":1.00},{"x":2.43,"y":0.81},{"x":2.47,"y":0.75},{"x":2.50,"y":0.72},{"x":2.53,"y":0.84},{"x":2.59,"y":0.78},{"x":2.60,"y":0.66},{"x":2.69,"y":0.98},{"x":2.68,"y":0.95},{"x":2.72,"y":0.91},{"x":2.75,"y":0.87},{"x":2.69,"y":0.82},{"x":2.77,"y":0.73},{"x":2.82,"y":0.93},{"x":2.84,"y":1.07},{"x":2.88,"y":1.00},{"x":2.86,"y":0.88},{"x":2.89,"y":0.68},{"x":2.93,"y":0.49},{"x":3.02,"y":1.01},{"x":3.15,"y":0.72},{"x":3.25,"y":0.73},{"x":3.30,"y":0.73},{"x":3.38,"y":0.67},{"x":3.44,"y":0.57},{"x":3.47,"y":0.90},{"x":3.47,"y":0.69},{"x":3.58,"y":0.89},{"x":3.59,"y":0.76},{"x":3.60,"y":0.64},{"x":3.86,"y":0.79},{"x":3.96,"y":0.71},{"x":2.33,"y":1.50},{"x":2.24,"y":1.50},{"x":2.08,"y":1.48},{"x":2.21,"y":1.46},{"x":2.23,"y":1.45},{"x":2.28,"y":1.35},{"x":2.30,"y":1.26},{"x":2.13,"y":1.35},{"x":2.32,"y":1.12},{"x":2.26,"y":0.95},{"x":2.29,"y":0.94},{"x":2.38,"y":0.78},{"x":2.25,"y":0.78},{"x":2.10,"y":0.52},{"x":2.13,"y":0.50},{"x":2.14,"y":0.44},{"x":2.19,"y":0.73},{"x":2.23,"y":0.62},{"x":2.20,"y":1.20},{"x":2.25,"y":1.05},{"x":2.18,"y":0.88},{"x":2.22,"y":1.30},{"x":2.15,"y":0.98},{"x":2.20,"y":0.56},
{"x":1.10,"y":0.83},{"x":1.13,"y":0.85},{"x":1.15,"y":0.80},{"x":1.18,"y":0.88},{"x":1.22,"y":0.83},{"x":1.26,"y":0.86},{"x":1.29,"y":0.81},{"x":1.23,"y":0.89},{"x":1.27,"y":0.84},{"x":1.30,"y":0.85},{"x":1.34,"y":0.80},{"x":1.35,"y":0.87},{"x":1.39,"y":0.82},{"x":1.32,"y":0.86},{"x":1.46,"y":0.81},{"x":1.40,"y":0.89},{"x":1.43,"y":0.84},{"x":1.47,"y":0.85},{"x":1.41,"y":0.80},{"x":1.44,"y":0.88},{"x":1.56,"y":0.84},{"x":1.58,"y":0.87},{"x":1.51,"y":0.82},{"x":1.59,"y":0.84},{"x":1.68,"y":0.80},{"x":1.61,"y":0.87},{"x":1.67,"y":0.83},{"x":1.69,"y":0.86},{"x":1.62,"y":0.81},{"x":1.77,"y":0.88},{"x":1.70,"y":0.83},{"x":1.72,"y":0.86},{"x":1.75,"y":0.80},{"x":1.71,"y":0.89},{"x":1.82,"y":0.83},{"x":1.86,"y":0.86},{"x":1.89,"y":0.81},{"x":1.83,"y":0.89},
{"x":1.17,"y":0.95},{"x":1.11,"y":0.90},{"x":1.14,"y":0.98},{"x":1.25,"y":0.93},{"x":1.28,"y":0.97},{"x":1.21,"y":0.92},{"x":1.26,"y":0.99},{"x":1.39,"y":0.94},{"x":1.32,"y":0.95},{"x":1.38,"y":0.90},{"x":1.49,"y":0.96},{"x":1.42,"y":0.91},{"x":1.47,"y":0.98},{"x":1.40,"y":0.93},{"x":1.43,"y":0.95},{"x":1.45,"y":0.90},{"x":1.58,"y":0.98},{"x":1.52,"y":0.93},{"x":1.56,"y":0.96},{"x":1.59,"y":0.91},{"x":1.53,"y":0.99},{"x":1.57,"y":0.94},{"x":1.60,"y":0.95},{"x":1.64,"y":0.90},{"x":1.65,"y":0.97},{"x":1.69,"y":0.92},{"x":1.62,"y":0.96},{"x":1.66,"y":0.91},{"x":1.70,"y":0.99},{"x":1.73,"y":0.94},{"x":1.77,"y":0.95},{"x":1.76,"y":0.91},{"x":1.74,"y":0.98},{"x":1.87,"y":0.98},{"x":1.82,"y":0.91},{"x":1.86,"y":0.99},{"x":1.99,"y":0.94},{"x":1.92,"y":0.95},{"x":1.98,"y":0.90},
{"x":1.17,"y":1.08},{"x":1.10,"y":1.03},{"x":1.23,"y":1.05},{"x":1.25,"y":1.00},{"x":1.28,"y":1.08},{"x":1.22,"y":1.03},{"x":1.36,"y":1.06},{"x":1.39,"y":1.01},{"x":1.33,"y":1.09},{"x":1.37,"y":1.04},{"x":1.30,"y":1.05},{"x":1.44,"y":1.00},{"x":1.45,"y":1.07},{"x":1.49,"y":1.02},{"x":1.42,"y":1.06},{"x":1.46,"y":1.01},{"x":1.40,"y":1.09},{"x":1.53,"y":1.04},{"x":1.57,"y":1.05},{"x":1.51,"y":1.00},{"x":1.54,"y":1.08},{"x":1.55,"y":1.03},{"x":1.58,"y":1.07},{"x":1.61,"y":1.02},{"x":1.66,"y":1.09},{"x":1.69,"y":1.04},{"x":1.62,"y":1.05},{"x":1.68,"y":1.00},{"x":1.76,"y":1.02},{"x":1.79,"y":1.06},{"x":1.71,"y":1.00},{"x":1.78,"y":1.07},{"x":1.70,"y":1.03},{"x":1.83,"y":1.05},{"x":1.85,"y":1.00},{"x":1.88,"y":1.08},{"x":1.82,"y":1.03},{"x":1.86,"y":1.06},{"x":1.99,"y":1.01},{"x":1.93,"y":1.09},
{"x":1.22,"y":1.16},{"x":1.26,"y":1.11},{"x":1.33,"y":1.14},{"x":1.37,"y":1.15},{"x":1.31,"y":1.10},{"x":1.34,"y":1.18},{"x":1.45,"y":1.13},{"x":1.48,"y":1.17},{"x":1.41,"y":1.12},{"x":1.46,"y":1.19},{"x":1.49,"y":1.14},{"x":1.52,"y":1.15},{"x":1.58,"y":1.10},{"x":1.59,"y":1.16},{"x":1.54,"y":1.13},{"x":1.67,"y":1.18},{"x":1.60,"y":1.13},{"x":1.63,"y":1.15},{"x":1.65,"y":1.10},{"x":1.61,"y":1.19},{"x":1.64,"y":1.12},{"x":1.76,"y":1.16},{"x":1.79,"y":1.11},{"x":1.73,"y":1.19},{"x":1.77,"y":1.14},{"x":1.71,"y":1.16},{"x":1.84,"y":1.10},{"x":1.85,"y":1.17},{"x":1.89,"y":1.12},{"x":1.82,"y":1.16},{"x":1.90,"y":1.19},{"x":1.97,"y":1.15},
{"x":1.48,"y":1.20},{"x":1.49,"y":1.26},{"x":1.52,"y":1.21},{"x":1.57,"y":1.28},{"x":1.50,"y":1.23},{"x":1.53,"y":1.25},{"x":1.55,"y":1.20},{"x":1.68,"y":1.28},{"x":1.62,"y":1.23},{"x":1.66,"y":1.26},{"x":1.69,"y":1.21},{"x":1.63,"y":1.29},{"x":1.77,"y":1.24},{"x":1.70,"y":1.25},{"x":1.74,"y":1.20},{"x":1.75,"y":1.27},{"x":1.79,"y":1.22},{"x":1.82,"y":1.26},{"x":1.86,"y":1.21},{"x":1.80,"y":1.29},{"x":1.83,"y":1.24}
],
"means":[{"s":"STD","x":1.54,"y":0.657},{"s":"(max−min)/2","x":1.54,"y":0.867}]
},
"layer":[
{"data":{"values":[{}]},
 "mark":{"type":"text","text":"anuscript","angle":270,"align":"left","baseline":"alphabetic","font":"DejaVu Sans","fontSize":142,"color":"#cacaca"},
 "encoding":{
  "x":{"datum":-0.085,"type":"quantitative","scale":{"domain":[0,4],"nice":false},"title":"MAE"},
  "y":{"datum":-0.595,"type":"quantitative","scale":{"domain":[0,4],"nice":false},"title":"STD of ensemble members"}}},
{"data":{"name":"std"},
 "mark":{"type":"point","filled":true,"size":11,"opacity":1},
 "encoding":{
  "x":{"field":"x","type":"quantitative","scale":{"domain":[0,4],"nice":false},"title":"MAE",
   "axis":{"values":[0,1,2,3,4],"format":"d","labelPadding":23,"titlePadding":12,"zindex":1}},
  "y":{"field":"y","type":"quantitative","scale":{"domain":[0,4],"nice":false},"title":"STD of ensemble members",
   "axis":{"values":[0,0.5,1,1.5,2,2.5,3,3.5,4],"format":"~g","labelPadding":19,"titlePadding":11,"titleFontSize":34,"titleY":316,"zindex":1}},
  "color":{"datum":"STD","scale":{"domain":["STD","(max−min)/2","1:1"],"range":["#0072BD","#FF7F7F","transparent"]},
   "legend":{"orient":"none","legendX":24,"legendY":23,"title":null,"labelFont":"DejaVu Sans","labelFontSize":24,"labelColor":"#000000","labelOffset":30,"labelLimit":400,"symbolSize":10,"symbolType":"circle","symbolOffset":29,"symbolStrokeWidth":0,"clipHeight":25,"rowPadding":7,"padding":7,"strokeColor":"#262626","fillColor":"#ffffff"}}}},
{"data":{"name":"mm"},
 "mark":{"type":"point","filled":true,"size":11,"opacity":1},
 "encoding":{
  "x":{"field":"x","type":"quantitative","scale":{"domain":[0,4],"nice":false},"title":"MAE"},
  "y":{"field":"y","type":"quantitative","scale":{"domain":[0,4],"nice":false},"title":"STD of ensemble members"},
  "color":{"datum":"(max−min)/2"}}},
{"data":{"values":[{}]},
 "mark":{"type":"rule","strokeWidth":4,"color":"#000000"},
 "encoding":{
  "x":{"datum":0,"type":"quantitative","scale":{"domain":[0,4],"nice":false},"title":"MAE"},
  "y":{"datum":0,"type":"quantitative","scale":{"domain":[0,4],"nice":false},"title":"STD of ensemble members"},
  "x2":{"datum":4},"y2":{"datum":4},
  "strokeDash":{"datum":"1:1","scale":{"domain":["1:1"],"range":[[15,11]]},
   "legend":{"orient":"none","legendX":31,"legendY":94,"title":null,"labelExpr":"''","labelFontSize":24,"symbolType":"stroke","symbolSize":4500,"symbolStrokeWidth":4,"symbolStrokeColor":"#000000","clipHeight":25,"padding":0,"strokeColor":null,"fillColor":null}}}},
{"data":{"name":"means"},
 "mark":{"type":"point","shape":"M-1,-1L1,1M-1,1L1,-1","size":100,"filled":false,"strokeWidth":2,"opacity":1},
 "encoding":{
  "x":{"field":"x","type":"quantitative","scale":{"domain":[0,4],"nice":false},"title":"MAE"},
  "y":{"field":"y","type":"quantitative","scale":{"domain":[0,4],"nice":false},"title":"STD of ensemble members"},
  "color":{"condition":{"test":"datum.s === 'STD'","value":"#0000FF"},"value":"#FF0000"}}},
{"data":{"values":[{}]},
 "mark":{"type":"text","text":"6 members","align":"left","baseline":"alphabetic","font":"Liberation Sans","fontSize":45,"color":"#000000"},
 "encoding":{
  "x":{"datum":2.70,"type":"quantitative","scale":{"domain":[0,4],"nice":false},"title":"MAE"},
  "y":{"datum":2.434,"type":"quantitative","scale":{"domain":[0,4],"nice":false},"title":"STD of ensemble members"}}},
{"data":{"values":[{}]},
 "mark":{"type":"text","text":"Wind speed","align":"center","baseline":"alphabetic","font":"DejaVu Sans","fontSize":27,"fontWeight":"bold","color":"#000000"},
 "encoding":{
  "x":{"datum":2,"type":"quantitative","scale":{"domain":[0,4],"nice":false},"title":"MAE"},
  "y":{"datum":4.084,"type":"quantitative","scale":{"domain":[0,4],"nice":false},"title":"STD of ensemble members"}}}
]
}
